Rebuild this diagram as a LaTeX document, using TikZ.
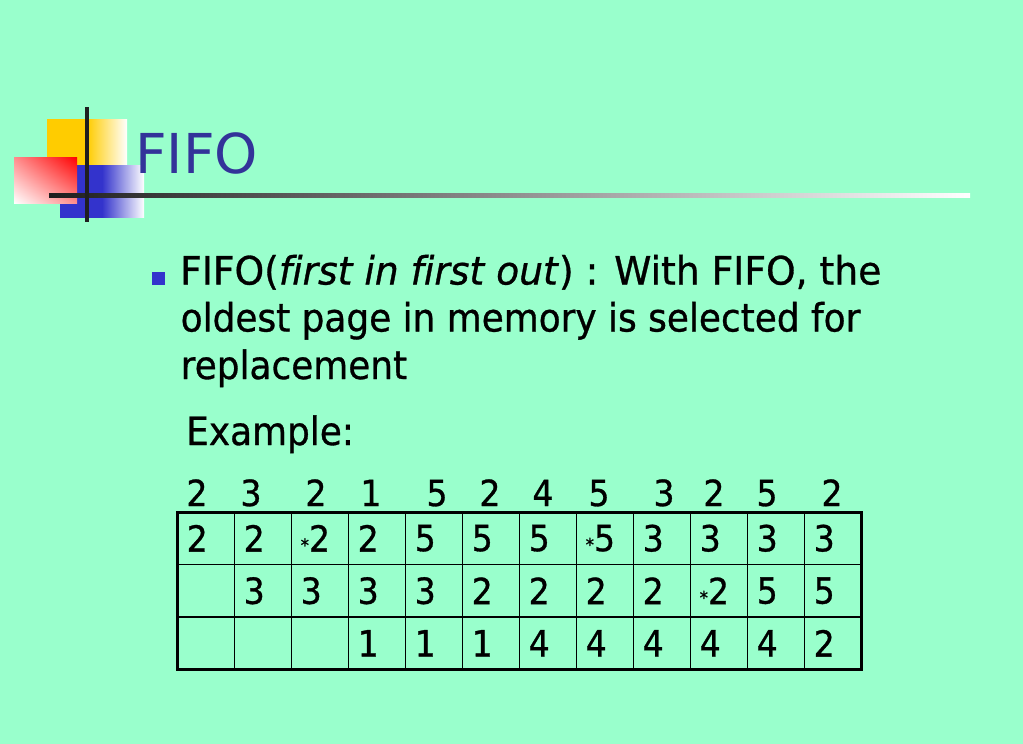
\documentclass[tikz,border=0pt]{standalone}
\usepackage{fontspec}
\usetikzlibrary{shadings}
\setmainfont{DejaVu Sans}[FakeStretch=0.92, FakeBold=0.8, Ligatures=NoCommon]
\newfontfamily\wideFont{DejaVu Sans}[FakeStretch=0.965, FakeBold=0.8, Ligatures=NoCommon]
\newfontfamily\titleFont{DejaVu Sans}[FakeStretch=1.0]
\definecolor{slideBg}{HTML}{99FFCC}
\definecolor{titleBlue}{HTML}{333399}
\definecolor{logoBlue}{HTML}{3333CC}
\definecolor{logoYellow}{HTML}{FFCC00}
\definecolor{logoRed}{HTML}{FF0000}
\newcommand\colorRule{black!88}
\newcommand\bodyFont{\fontsize{39}{47}\selectfont}
\newcommand\tableFont{\fontsize{36}{40}\selectfont}
\newcommand\starred[1]{{\fontsize{18}{18}\selectfont *}#1}
\newcommand\tableLeft{177.5}
\newcommand\tableTop{512}
\newcommand\cellWidth{57}
\newcommand\cellHeight{52.5}
\newcommand\tableCols{12}
\newcommand\tableRows{3}
\newcommand\drawTableGrid{
	\foreach \i in {1,...,11}{
		\draw[line width=1.7pt] (\tableLeft+\i*\cellWidth,\tableTop) to ++(0,\tableRows*\cellHeight);
	}
	\foreach \j in {1,2}{
		\draw[line width=1.7pt] (\tableLeft,\tableTop+\j*\cellHeight) to ++(\tableCols*\cellWidth,0);
	}
	\draw[line width=3pt] (\tableLeft,\tableTop) rectangle ++(\tableCols*\cellWidth,\tableRows*\cellHeight);
}

\begin{document}
\begin{tikzpicture}[x=1pt,y=-1pt]
	\fill[color=slideBg] (0,0) rectangle (1023,744);
	\useasboundingbox (0,0) rectangle (1023,744);
	
	\shade[left color=logoYellow, right color=white, middle color=logoYellow] (47,119) rectangle (127,199);
	\shade[left color=logoBlue, right color=white, middle color=logoBlue] (60,165) rectangle (144,217);
	\shade[upper right=logoRed, lower left=white, upper left=logoRed!45!white, lower right=logoRed!45!white] (14,157) rectangle (77,203);
	\shade[left color=\colorRule, right color=white] (49,193) rectangle (970,197);
	\fill[color=\colorRule] (85.3,107) rectangle (89.3,222);
	
	\node[anchor=base west, inner sep=0, text=titleBlue, font=\titleFont\fontsize{55}{60}\selectfont] (title) at (135,173) {FIFO};
	
	\node[fill=logoBlue, minimum size=13pt, inner sep=0] (bullet) at (158,278.5) {};
	\node[anchor=base west, inner sep=0, font=\wideFont\bodyFont] (line1) at (180,284.5) {FIFO(\textit{first in first out}) : With FIFO, the};
	\node[anchor=base west, inner sep=0, font=\bodyFont] (line2) at (180.5,331.5) {oldest page in memory is selected for};
	\node[anchor=base west, inner sep=0, font=\bodyFont] (line3) at (180.5,379) {replacement};
	\node[anchor=base west, inner sep=0, font=\bodyFont] (example) at (186,445) {Example:};
	
	\foreach \val/\xpos [count=\i] in {2/197,3/251,2/316,1/371,5/437,2/490,4/543,5/599,3/664,2/714,5/767,2/832}{
		\node[anchor=base, inner sep=0, font=\tableFont] (ref\i) at (\xpos,506) {\val};
	}
	
	\drawTableGrid
	
	\foreach \val [count=\c] in {2,2,\starred{2},2,5,5,5,\starred{5},3,3,3,3}{
		\node[anchor=west, inner sep=0, font=\tableFont] (cell-1-\c) at (\tableLeft+\c*\cellWidth-\cellWidth+9,\tableTop+0.5*\cellHeight) {\val};
	}
	\foreach \val [count=\c from 2] in {3,3,3,3,2,2,2,2,\starred{2},5,5}{
		\node[anchor=west, inner sep=0, font=\tableFont] (cell-2-\c) at (\tableLeft+\c*\cellWidth-\cellWidth+9,\tableTop+1.5*\cellHeight) {\val};
	}
	\foreach \val [count=\c from 4] in {1,1,1,4,4,4,4,4,2}{
		\node[anchor=west, inner sep=0, font=\tableFont] (cell-3-\c) at (\tableLeft+\c*\cellWidth-\cellWidth+9,\tableTop+2.5*\cellHeight) {\val};
	}
\end{tikzpicture}
\end{document}
